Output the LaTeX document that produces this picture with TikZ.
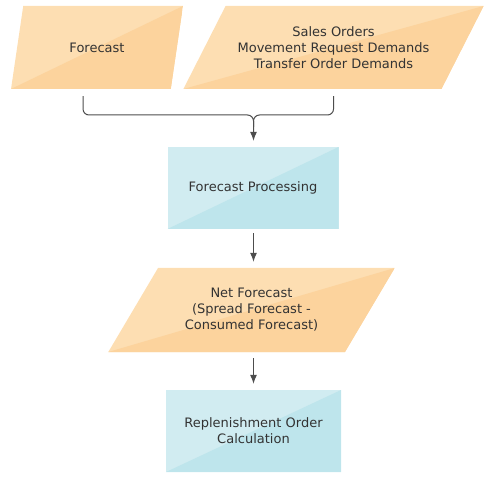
\documentclass[tikz,border=0pt]{standalone}
\usepackage{xcolor}
\usepackage{fontspec}
\setmainfont{DejaVu Sans}
\usepackage{tikz}
\usetikzlibrary{shapes.geometric,arrows.meta,positioning,calc}

\definecolor{orlight}{RGB}{253,222,178}
\definecolor{ordark}{RGB}{252,211,157}
\definecolor{bllight}{RGB}{209,236,241}
\definecolor{bldark}{RGB}{190,229,236}
\definecolor{txtgray}{RGB}{51,51,51}
\definecolor{lngray}{RGB}{77,77,77}

\begin{document}
\begin{tikzpicture}[
			x = 1pt, y = -1pt,
			every node/.style = {font = \fontsize{13}{16}\selectfont, text = txtgray, align = center},
			data/.style = {trapezium, trapezium stretches = true, fill = orlight, inner sep = 0pt,
				path picture = {\fill[ordark] (path picture bounding box.south west) -- (path picture bounding box.north east) -- (path picture bounding box.south east) -- cycle;}},
			proc/.style = {rectangle, fill = bllight, inner sep = 0pt,
				path picture = {\fill[bldark] (path picture bounding box.south west) -- (path picture bounding box.north east) -- (path picture bounding box.south east) -- cycle;}},
			conn/.style = {draw = lngray, line width = 1pt, rounded corners = 6pt},
			flow/.style = {conn, -{Latex[length = 9pt, width = 7pt]}}
			]

			\useasboundingbox (0,0) rectangle (503,478);

			\node[data, minimum width = 172pt, minimum height = 83pt, trapezium left angle = 64.8, trapezium right angle = 115.2] (fcst) at (97,47.5) {Forecast};
			\node[data, minimum width = 301pt, minimum height = 83pt, trapezium left angle = 48.3, trapezium right angle = 131.7] (dmnd) at (333.5,47.5) {Sales Orders\\Movement Request Demands\\Transfer Order Demands};
			\node[proc, minimum width = 171pt, minimum height = 82pt] (fproc) at (253,188) {Forecast Processing};
			\node[data, minimum width = 287pt, minimum height = 84pt, trapezium left angle = 50.6, trapezium right angle = 129.4] (netf) at (251.5,310) {Net Forecast\\(Spread Forecast -\\Consumed Forecast)};
			\node[proc, minimum width = 175pt, minimum height = 82pt] (repl) at (253.5,431) {Replenishment Order\\Calculation};

			\coordinate (join) at (253.5,115);

			\draw[flow, shorten > = 6pt] ([shift = {(-14pt,-7pt)}]fcst.south) |- (join) -- (join |- fproc.north);
			\draw[conn] ([yshift = -7pt]dmnd.south) |- (join) -- ++(0,12);
			\draw[flow, shorten < = 4pt, shorten > = 6pt] (join |- fproc.south) -- (join |- netf.north);
			\draw[flow, shorten < = 6pt, shorten > = 6pt] (join |- netf.south) -- (join |- repl.north);

		\end{tikzpicture}
\end{document}
